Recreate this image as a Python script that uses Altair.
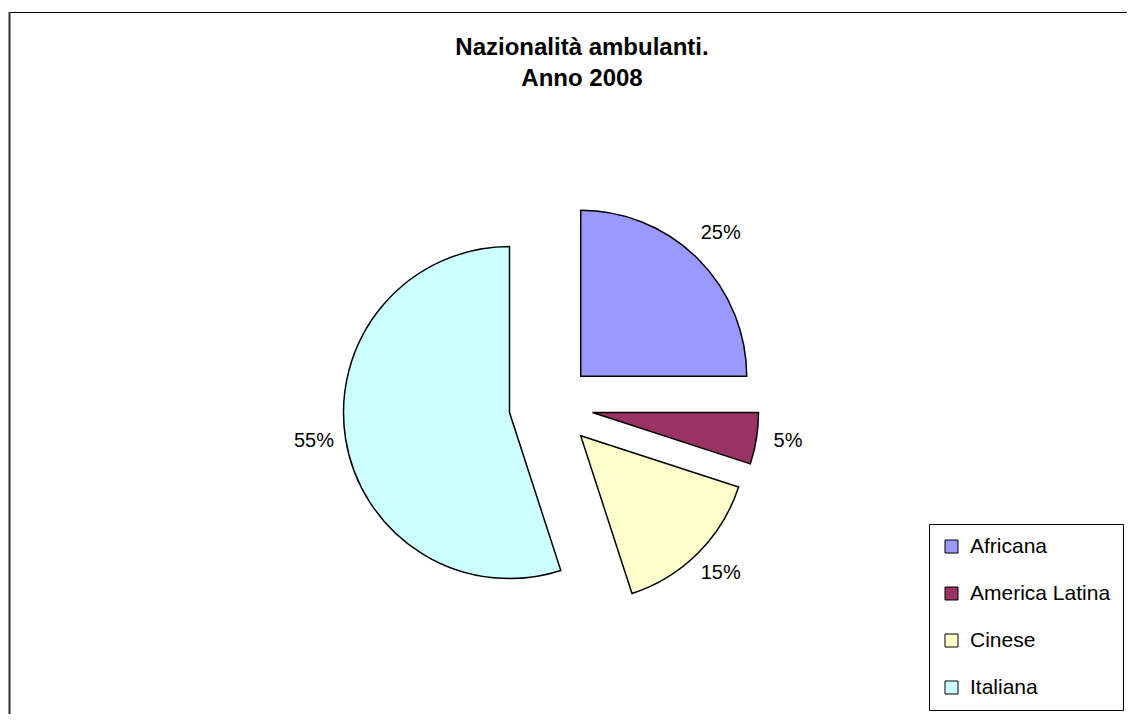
import altair as alt
import pandas as pd

categories = ["Africana", "America Latina", "Cinese", "Italiana"]
values = [25, 5, 15, 55]
colors = ["#9999FF", "#993366", "#FFFFCC", "#CCFFFF"]
title_lines = ["Nazionalità ambulanti.", "Anno 2008"]

df = pd.DataFrame({"cat": categories, "val": values, "order": list(range(len(categories)))})

CX, CY = 542, 398      # pie centre in plot pixels
EXPLODE = 42
R = 166
RL = 198
TAU = 6.283185307179586

base = alt.Chart(df).transform_joinaggregate(
    total="sum(val)"
).transform_window(
    cum="sum(val)", sort=[alt.SortField("order")], frame=[None, 0]
).transform_calculate(
    t0=f"(datum.cum - datum.val) / datum.total * {TAU}",
    t1=f"datum.cum / datum.total * {TAU}",
).transform_calculate(
    mid="(datum.t0 + datum.t1) / 2",
).transform_calculate(
    cx=f"{CX} + {EXPLODE} * sin(datum.mid)",
    cy=f"{CY} - {EXPLODE} * cos(datum.mid)",
    lx=f"{CX} + {EXPLODE} * sin(datum.mid) + {RL} * sin(datum.mid)",
    ly=f"{CY} - {EXPLODE} * cos(datum.mid) - {RL} * cos(datum.mid) - 3",
    pct="format(datum.val / datum.total, '.0%')",
)

color = alt.Color(
    "cat:N",
    scale=alt.Scale(domain=categories, range=colors),
    sort=categories,
    legend=alt.Legend(
        title=None,
        orient="none",
        legendX=920,
        legendY=516,
        symbolType="square",
        symbolSize=169,
        symbolStrokeColor="black",
        symbolStrokeWidth=1,
        symbolOpacity=1,
        labelFontSize=21,
        labelFont="Liberation Sans",
        labelColor="black",
        labelOffset=8,
        rowPadding=25,
        padding=12,
        strokeColor="black",
        fillColor="white",
        labelLimit=300,
    ),
)

arcs = base.mark_arc(radius=R, stroke="black", strokeWidth=1.5).encode(
    x=alt.X("cx:Q", scale=None, axis=None),
    y=alt.Y("cy:Q", scale=None, axis=None),
    theta=alt.Theta("t0:Q", scale=None, stack=None),
    theta2="t1:Q",
    color=color,
    order=alt.Order("order:Q"),
)

labels = base.mark_text(font="Liberation Sans", fontSize=20, color="black", baseline="middle").encode(
    x=alt.X("lx:Q", scale=None, axis=None),
    y=alt.Y("ly:Q", scale=None, axis=None),
    text="pct:N",
)

title = alt.Chart(pd.DataFrame({"t": [0]})).mark_text(
    text=title_lines,
    font="Liberation Sans",
    fontSize=24,
    fontWeight="bold",
    color="black",
    lineHeight=31,
    baseline="top",
    align="center",
).encode(x=alt.value(573), y=alt.value(28))

top_rule = alt.Chart(pd.DataFrame({"t": [0]})).mark_rule(color="black", strokeWidth=1).encode(
    x=alt.value(0), x2=alt.value(1119), y=alt.value(4.5)
)
left_rule = alt.Chart(pd.DataFrame({"t": [0]})).mark_rule(color="#333333", strokeWidth=2).encode(
    x=alt.value(0.5), y=alt.value(4), y2=alt.value(706)
)

chart = alt.layer(arcs, labels, title, top_rule, left_rule).properties(
    width=1119,
    height=706,
    padding=0,
    autosize=alt.AutoSizeParams(type="fit", contains="padding"),
    background="white",
).configure_view(stroke=None)

chart.save("out.html", embed_options={"renderer": "svg", "actions": False})
